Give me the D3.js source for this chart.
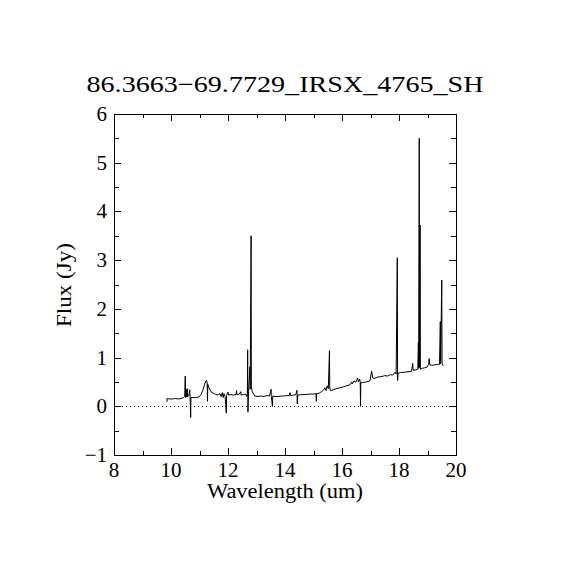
<!DOCTYPE html>
<meta charset="utf-8">
<style>
    body { margin: 0; background: #fff; }
    text { font-family: "Liberation Serif", serif; fill: #000; }
    .tick line { stroke: #000; shape-rendering: crispEdges; }
</style>
<body>
<script src="https://cdn.jsdelivr.net/npm/d3@7"></script>
<script>

    var width = 570,
        height = 570;

    var title = "86.3663\u221269.7729_IRSX_4765_SH",
        xLabel = "Wavelength (um)",
        yLabel = "Flux (Jy)";

    var xTicks = [8, 10, 12, 14, 16, 18, 20],
        yTicks = [-1, 0, 1, 2, 3, 4, 5, 6];

    // spectrum: wavelength (um) and flux (Jy)
    var wave = [
        9.86, 9.86, 9.95, 10.05, 10.15, 10.25, 10.35, 10.40, 10.45, 10.48,
        10.50, 10.51, 10.53, 10.54, 10.57, 10.58, 10.62, 10.66, 10.67, 10.69,
        10.70, 10.80, 10.90, 10.98, 11.05, 11.12, 11.18, 11.22, 11.25, 11.27,
        11.28, 11.29, 11.33, 11.40, 11.48, 11.55, 11.65, 11.72, 11.76, 11.80,
        11.83, 11.86, 11.90, 11.94, 11.95, 12.00, 12.02, 12.10, 12.20, 12.28,
        12.30, 12.31, 12.40, 12.45, 12.46, 12.55, 12.62, 12.66, 12.68, 12.69,
        12.70, 12.72, 12.77, 12.78, 12.81, 12.82, 12.85, 12.90, 12.95, 13.05,
        13.15, 13.25, 13.35, 13.45, 13.50, 13.51, 13.52, 13.56, 13.57, 13.65,
        13.75, 13.85, 13.95, 14.05, 14.15, 14.18, 14.19, 14.30, 14.38, 14.42,
        14.43, 14.45, 14.55, 14.70, 14.85, 15.00, 15.09, 15.10, 15.11, 15.20,
        15.28, 15.35, 15.40, 15.44, 15.48, 15.52, 15.56, 15.57, 15.60, 15.70,
        15.80, 15.93, 16.05, 16.15, 16.28, 16.34, 16.36, 16.42, 16.48, 16.55,
        16.58, 16.62, 16.64, 16.65, 16.66, 16.75, 16.85, 16.98, 17.04, 17.08,
        17.12, 17.25, 17.40, 17.50, 17.60, 17.70, 17.78, 17.86, 17.90, 17.94,
        17.95, 17.97, 18.05, 18.20, 18.35, 18.44, 18.48, 18.50, 18.60, 18.66,
        18.68, 18.69, 18.71, 18.72, 18.74, 18.75, 18.82, 18.90, 18.98, 19.04,
        19.06, 19.08, 19.15, 19.25, 19.35, 19.42, 19.45, 19.46, 19.50, 19.51,
        19.55
    ];
    var flux = [
        0.09, 0.16, 0.15, 0.15, 0.16, 0.15, 0.16, 0.17, 0.18, 0.20,
        0.62, 0.18, 0.35, 0.19, 0.36, 0.20, 0.21, 0.34, 0.18, -0.23,
        0.18, 0.18, 0.18, 0.19, 0.24, 0.33, 0.45, 0.52, 0.53, 0.48,
        0.10, 0.45, 0.38, 0.30, 0.27, 0.25, 0.23, 0.26, 0.20, 0.28,
        0.18, 0.26, 0.20, -0.14, 0.22, 0.29, 0.23, 0.24, 0.23, 0.24,
        0.32, 0.24, 0.25, 0.30, 0.23, 0.24, 0.25, 0.20, 0.27, 1.16,
        -0.12, 0.30, 0.81, 0.35, 3.50, 0.40, 0.30, 0.25, 0.21, 0.20,
        0.21, 0.20, 0.22, 0.21, 0.30, 0.35, 0.20, 0.00, 0.21, 0.20,
        0.20, 0.21, 0.21, 0.22, 0.22, 0.28, 0.22, 0.23, 0.24, 0.33,
        0.05, 0.23, 0.24, 0.24, 0.25, 0.25, 0.26, 0.10, 0.26, 0.27,
        0.30, 0.33, 0.38, 0.32, 0.42, 0.36, 1.14, 0.38, 0.32, 0.34,
        0.36, 0.38, 0.40, 0.42, 0.44, 0.50, 0.46, 0.52, 0.49, 0.58,
        0.50, 0.56, 0.50, 0.00, 0.48, 0.49, 0.50, 0.52, 0.72, 0.58,
        0.57, 0.60, 0.61, 0.63, 0.62, 0.65, 0.64, 0.70, 0.66, 3.05,
        0.53, 0.68, 0.69, 0.70, 0.71, 0.72, 0.88, 0.74, 0.75, 0.76,
        1.31, 0.78, 5.50, 0.80, 3.72, 0.76, 0.78, 0.79, 0.80, 0.86,
        0.98, 0.85, 0.84, 0.85, 0.86, 0.86, 1.74, 0.87, 2.59, 0.88,
        0.83
    ];

    var plotLeft = 114, plotRight = 456, plotTop = 114, plotBottom = 455;

    var x = d3.scaleLinear().domain([8, 20]).range([plotLeft, plotRight]);
    var y = d3.scaleLinear().domain([-1, 6]).range([plotBottom, plotTop]);

    var svg = d3.select("body").append("svg")
        .attr("width", width)
        .attr("height", height);

    // zero line
    svg.append("line")
        .attr("x1", plotLeft).attr("x2", plotRight)
        .attr("y1", Math.round(y(0)) + 0.5).attr("y2", Math.round(y(0)) + 0.5)
        .attr("stroke", "#000")
        .attr("stroke-dasharray", "1,3");

    // spectrum
    var line = d3.line()
        .x(function(d, i) { return x(wave[i]); })
        .y(function(d) { return y(d); });

    svg.append("path")
        .datum(flux)
        .attr("fill", "none")
        .attr("stroke", "#000")
        .attr("stroke-width", 1)
        .attr("d", line);

    // frame
    svg.append("rect")
        .attr("x", plotLeft + 0.5).attr("y", plotTop + 0.5)
        .attr("width", plotRight - plotLeft).attr("height", plotBottom - plotTop)
        .attr("fill", "none")
        .attr("stroke", "#000");

    var xMinor = d3.range(9, 20, 2),
        yMinor = d3.range(-0.5, 6, 1);

    function ticks(axis, tx, ty) {
        svg.append("g")
            .attr("transform", "translate(" + tx + "," + ty + ")")
            .call(axis)
            .call(function(s) { s.select(".domain").remove(); });
    }

    // major + minor ticks, drawn inward on all four sides
    ticks(d3.axisBottom(x).tickValues(xTicks).tickSize(-7).tickFormat(""), 0, plotBottom);
    ticks(d3.axisBottom(x).tickValues(xMinor).tickSize(-4).tickFormat(""), 0, plotBottom);
    ticks(d3.axisTop(x).tickValues(xTicks).tickSize(-7).tickFormat(""), 0, plotTop);
    ticks(d3.axisTop(x).tickValues(xMinor).tickSize(-4).tickFormat(""), 0, plotTop);
    ticks(d3.axisLeft(y).tickValues(yTicks).tickSize(-7).tickFormat(""), plotLeft, 0);
    ticks(d3.axisLeft(y).tickValues(yMinor).tickSize(-5).tickFormat(""), plotLeft, 0);
    ticks(d3.axisRight(y).tickValues(yTicks).tickSize(-7).tickFormat(""), plotRight, 0);
    ticks(d3.axisRight(y).tickValues(yMinor).tickSize(-5).tickFormat(""), plotRight, 0);

    // tick labels
    svg.append("g").selectAll("text")
        .data(xTicks)
        .enter().append("text")
        .attr("x", function(d) { return x(d); })
        .attr("y", 477)
        .attr("text-anchor", "middle")
        .attr("font-size", 21)
        .text(function(d) { return d; });

    svg.append("g").selectAll("text")
        .data(yTicks)
        .enter().append("text")
        .attr("x", 107)
        .attr("y", function(d) { return y(d) + 7; })
        .attr("text-anchor", "end")
        .attr("font-size", 21)
        .text(function(d) { return d < 0 ? "\u2212" + (-d) : d; });

    // title and axis labels
    svg.append("text")
        .attr("x", 285).attr("y", 92)
        .attr("text-anchor", "middle")
        .attr("font-size", 23)
        .attr("textLength", 397)
        .attr("lengthAdjust", "spacingAndGlyphs")
        .text(title);

    svg.append("text")
        .attr("x", 285).attr("y", 498)
        .attr("text-anchor", "middle")
        .attr("font-size", 20)
        .attr("textLength", 156)
        .attr("lengthAdjust", "spacingAndGlyphs")
        .text(xLabel);

    svg.append("text")
        .attr("transform", "translate(71,285) rotate(-90)")
        .attr("text-anchor", "middle")
        .attr("font-size", 20)
        .attr("textLength", 84)
        .attr("lengthAdjust", "spacingAndGlyphs")
        .text(yLabel);

</script>
